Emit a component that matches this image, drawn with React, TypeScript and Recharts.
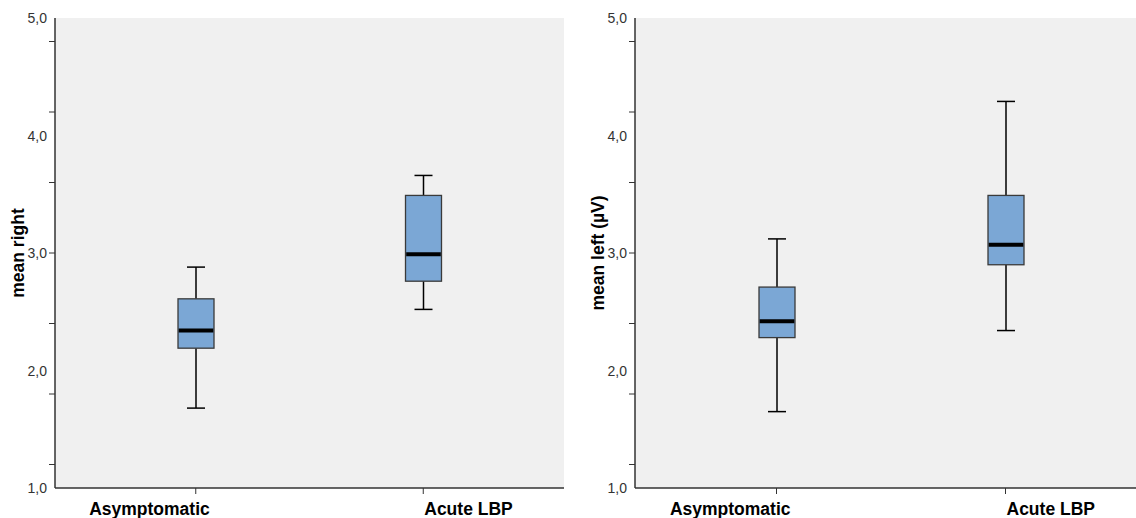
import React from "react";
import { ComposedChart, Bar, XAxis, YAxis, CartesianGrid } from "recharts";

const GROUPS = ["Asymptomatic", "Acute LBP"];

// mean right
const RIGHT_MIN = [1.68, 2.52];
const RIGHT_Q1 = [2.19, 2.76];
const RIGHT_MED = [2.34, 2.99];
const RIGHT_Q3 = [2.61, 3.49];
const RIGHT_MAX = [2.88, 3.66];

// mean left (µV)
const LEFT_MIN = [1.65, 2.34];
const LEFT_Q1 = [2.28, 2.9];
const LEFT_MED = [2.42, 3.07];
const LEFT_Q3 = [2.71, 3.49];
const LEFT_MAX = [3.12, 4.29];

const Y_LABELS = [1, 2, 3, 4, 5];
const Y_MARKS = [1.2, 1.8, 2.4, 3.0, 3.6, 4.2, 4.8];
const Y_TICKS = Array.from(new Set([...Y_LABELS, ...Y_MARKS])).sort((a, b) => a - b);

const FONT = "'Liberation Sans', Arial, sans-serif";
const BORDER = "#333333";

const makeRows = (mn: number[], q1: number[], med: number[], q3: number[], mx: number[]) =>
  GROUPS.map((g, i) => ({ group: g, min: mn[i], q1: q1[i], med: med[i], q3: q3[i], max: mx[i] }));

const BoxShape = (props: any) => {
  const { x, y, width, height, payload } = props;
  const top = Math.min(y, y + height);
  const h = Math.abs(height);
  const lo = payload.min;
  const hi = payload.max;
  const py = (v: number) => top + ((hi - v) / (hi - lo)) * h;
  const cx = x + width / 2;
  const cap = 9;
  return (
    <g>
      <line x1={cx} x2={cx} y1={py(hi)} y2={py(payload.q3)} stroke="#000" strokeWidth={1.5} />
      <line x1={cx} x2={cx} y1={py(payload.q1)} y2={py(lo)} stroke="#000" strokeWidth={1.5} />
      <line x1={cx - cap} x2={cx + cap} y1={py(hi)} y2={py(hi)} stroke="#000" strokeWidth={1.5} />
      <line x1={cx - cap} x2={cx + cap} y1={py(lo)} y2={py(lo)} stroke="#000" strokeWidth={1.5} />
      <rect
        x={x}
        y={py(payload.q3)}
        width={width}
        height={py(payload.q1) - py(payload.q3)}
        fill="#7ba7d5"
        stroke="#3a3a3a"
        strokeWidth={1.3}
      />
      <line x1={x + 0.7} x2={x + width - 0.7} y1={py(payload.med)} y2={py(payload.med)} stroke="#000" strokeWidth={4} />
    </g>
  );
};

const YTick = (props: any) => {
  const { x, y, payload } = props;
  const v = payload.value;
  const showLabel = Y_LABELS.some((l) => Math.abs(l - v) < 1e-6);
  const showMark = Y_MARKS.some((m) => Math.abs(m - v) < 1e-6);
  return (
    <g>
      {showMark && <line x1={x + 2} x2={x + 8} y1={y} y2={y} stroke={BORDER} strokeWidth={1} />}
      {showLabel && (
        <text x={x} y={y} dy={5} textAnchor="end" fontSize={14} fontFamily={FONT} fill="#333">
          {v.toFixed(1).replace(".", ",")}
        </text>
      )}
    </g>
  );
};

const XTick = (props: any) => {
  const { x, y, payload, index } = props;
  const first = index === 0;
  return (
    <text
      x={first ? x + 14 : x + 1}
      y={y}
      dy={19}
      textAnchor={first ? "end" : "start"}
      fontSize={17.5}
      fontWeight="bold"
      fontFamily={FONT}
      fill="#000"
    >
      {payload.value}
    </text>
  );
};

const YLabel = (text: string) => (props: any) => {
  const { viewBox } = props;
  const cx = viewBox.x + 18;
  const cy = viewBox.y + viewBox.height / 2;
  return (
    <text
      x={cx}
      y={cy}
      transform={`rotate(-90 ${cx} ${cy})`}
      textAnchor="middle"
      dominantBaseline="central"
      fontSize={17.5}
      fontWeight="bold"
      fontFamily={FONT}
      fill="#000"
    >
      {text}
    </text>
  );
};

function BoxPanel({ rows, yLabel, width }: { rows: any[]; yLabel: string; width: number }) {
  return (
    <ComposedChart width={width} height={518} data={rows} margin={{ top: 18, right: 0, bottom: 0, left: 0 }}>
      <CartesianGrid fill="#f0f0f0" horizontal={false} vertical={false} />
      <XAxis
        dataKey="group"
        type="category"
        height={30}
        padding={{ left: 27, right: 27 }}
        axisLine={{ stroke: BORDER, strokeWidth: 1.5 }}
        tickLine={{ stroke: BORDER }}
        tickSize={6}
        tickMargin={2}
        tick={<XTick />}
        interval={0}
      />
      <XAxis xAxisId="top" orientation="top" height={0} tick={false} tickLine={false} axisLine={{ stroke: BORDER, strokeWidth: 1.5 }} />
      <YAxis
        domain={[1, 5]}
        ticks={Y_TICKS}
        interval={0}
        width={55}
        axisLine={{ stroke: BORDER, strokeWidth: 1.5 }}
        tickLine={false}
        tickSize={6}
        tickMargin={2}
        tick={<YTick />}
        label={{ content: YLabel(yLabel) }}
      />
      <YAxis yAxisId="right" orientation="right" width={0} tick={false} tickLine={false} axisLine={{ stroke: BORDER, strokeWidth: 1.5 }} />
      <Bar dataKey={(d: any) => [d.min, d.max]} barSize={36} shape={<BoxShape />} isAnimationActive={false} />
    </ComposedChart>
  );
}

export default function App() {
  const rightRows = makeRows(RIGHT_MIN, RIGHT_Q1, RIGHT_MED, RIGHT_Q3, RIGHT_MAX);
  const leftRows = makeRows(LEFT_MIN, LEFT_Q1, LEFT_MED, LEFT_Q3, LEFT_MAX);
  return (
    <div
      style={{
        position: "absolute",
        left: 0,
        top: 0,
        width: 1136,
        height: 518,
        overflow: "hidden",
        background: "#fff",
      }}
    >
      <div style={{ position: "absolute", left: 0, top: 0 }}>
        <BoxPanel rows={rightRows} yLabel="mean right" width={564} />
      </div>
      <div style={{ position: "absolute", left: 580, top: 0 }}>
        <BoxPanel rows={leftRows} yLabel="mean left (µV)" width={567} />
      </div>
    </div>
  );
}
